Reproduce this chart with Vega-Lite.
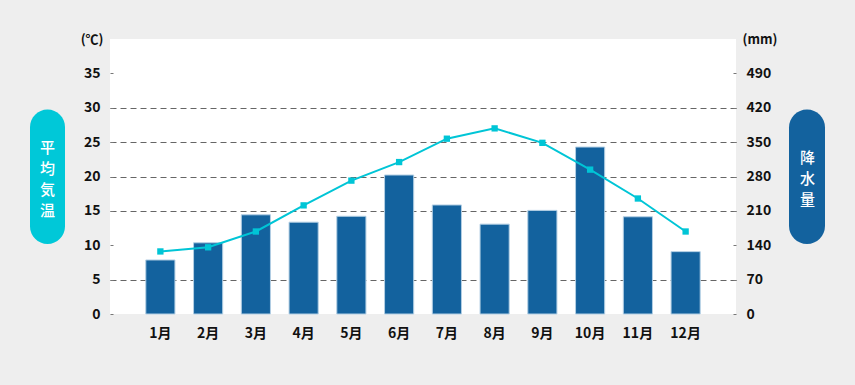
{
  "$schema": "https://vega.github.io/schema/vega-lite/v6.json",
  "background": "#eeeeee",
  "padding": {"left": 30, "top": 33, "right": 30, "bottom": 45},
  "bounds": "flush",
  "spacing": 45,
  "hconcat": [
    {
      "width": 35,
      "height": 275,
      "view": {"stroke": null},
      "data": {"values": [{"name": "平均気温"}]},
      "layer": [
        {
          "mark": {"type": "rect", "cornerRadius": 17.5, "color": "#00c8d8"},
          "encoding": {
            "y": {"datum": 29.75, "type": "quantitative", "scale": {"domain": [0, 40]}, "axis": null},
            "y2": {"datum": 10.2}
          }
        },
        {
          "mark": {"type": "text", "text": ["平", "均", "気", "温"], "color": "white", "font": "Noto Sans CJK JP", "fontSize": 15, "fontWeight": 500, "lineHeight": 21, "baseline": "middle", "align": "center"},
          "encoding": {
            "y": {"datum": 24.2, "type": "quantitative", "scale": {"domain": [0, 40]}, "axis": null}
          }
        }
      ]
    },
    {
      "width": 626,
      "height": 275,
      "view": {"fill": "white", "stroke": null},
      "data": {
        "values": [
          {"month": "1月", "temp": 9.1, "precip": 110},
          {"month": "2月", "temp": 9.7, "precip": 145},
          {"month": "3月", "temp": 12.0, "precip": 202},
          {"month": "4月", "temp": 15.8, "precip": 187},
          {"month": "5月", "temp": 19.4, "precip": 199},
          {"month": "6月", "temp": 22.1, "precip": 283},
          {"month": "7月", "temp": 25.5, "precip": 222},
          {"month": "8月", "temp": 27.0, "precip": 183},
          {"month": "9月", "temp": 24.9, "precip": 211},
          {"month": "10月", "temp": 21.0, "precip": 340},
          {"month": "11月", "temp": 16.8, "precip": 198},
          {"month": "12月", "temp": 12.0, "precip": 127}
        ]
      },
      "layer": [
        {
          "mark": {"type": "bar", "color": "#13629e", "stroke": "#b3cfe4", "strokeWidth": 1},
          "encoding": {
            "x": {
              "field": "month", "type": "ordinal", "sort": null,
              "scale": {"paddingInner": 0.39, "paddingOuter": 0.75},
              "axis": {"title": null, "labelAngle": 0, "ticks": false, "domain": false, "labelPadding": 12, "grid": false}
            },
            "y": {
              "field": "precip", "type": "quantitative",
              "scale": {"domain": [0, 560]},
              "axis": {
                "orient": "right", "values": [0, 70, 140, 210, 280, 350, 420, 490],
                "title": "(mm)", "titleAngle": 0, "titleAlign": "left", "titleBaseline": "middle", "titleX": 6, "titleY": 0,
                "grid": false, "ticks": true, "tickSize": -3, "tickColor": "#777777", "labelPadding": 13
              }
            }
          }
        },
        {
          "mark": {"type": "line", "color": "#00c5d6", "strokeWidth": 2, "point": {"shape": "square", "size": 40, "filled": true, "color": "#00c5d6", "opacity": 1}},
          "encoding": {
            "x": {"field": "month", "type": "ordinal", "sort": null},
            "y": {
              "field": "temp", "type": "quantitative",
              "scale": {"domain": [0, 40]},
              "axis": {
                "orient": "left", "values": [0, 5, 10, 15, 20, 25, 30, 35],
                "title": "(℃)", "titleAngle": 0, "titleAlign": "right", "titleBaseline": "middle", "titleX": -7, "titleY": 0,
                "grid": true, "gridDash": [6, 4], "gridColor": "#666666",
                "gridOpacity": {"condition": {"test": "datum.value == 0 || datum.value == 10 || datum.value == 35", "value": 0}, "value": 1},
                "ticks": true, "tickSize": -3, "tickColor": "#777777", "labelPadding": 13
              }
            }
          }
        }
      ],
      "resolve": {"scale": {"y": "independent"}}
    },
    {
      "width": 44,
      "height": 275,
      "view": {"stroke": null},
      "data": {"values": [{"name": "降水量"}]},
      "layer": [
        {
          "mark": {"type": "rect", "cornerRadius": 18, "color": "#13629e"},
          "encoding": {
            "x": {"datum": 8, "type": "quantitative", "scale": {"domain": [0, 44]}, "axis": null},
            "x2": {"datum": 44},
            "y": {"datum": 29.75, "type": "quantitative", "scale": {"domain": [0, 40]}, "axis": null},
            "y2": {"datum": 10.2}
          }
        },
        {
          "mark": {"type": "text", "text": ["降", "水", "量"], "color": "white", "font": "Noto Sans CJK JP", "fontSize": 15, "fontWeight": 500, "lineHeight": 21, "baseline": "middle", "align": "center"},
          "encoding": {
            "x": {"datum": 26.5, "type": "quantitative", "scale": {"domain": [0, 44]}, "axis": null},
            "y": {"datum": 22.7, "type": "quantitative", "scale": {"domain": [0, 40]}, "axis": null}
          }
        }
      ]
    }
  ],
  "config": {
    "font": "Noto Sans CJK JP",
    "axis": {
      "labelFont": "Noto Sans CJK JP", "labelFontSize": 14, "labelFontWeight": "bold", "labelColor": "#111111",
      "titleFont": "Noto Sans CJK JP", "titleFontSize": 13, "titleFontWeight": "bold", "titleColor": "#111111",
      "domain": false
    }
  }
}
